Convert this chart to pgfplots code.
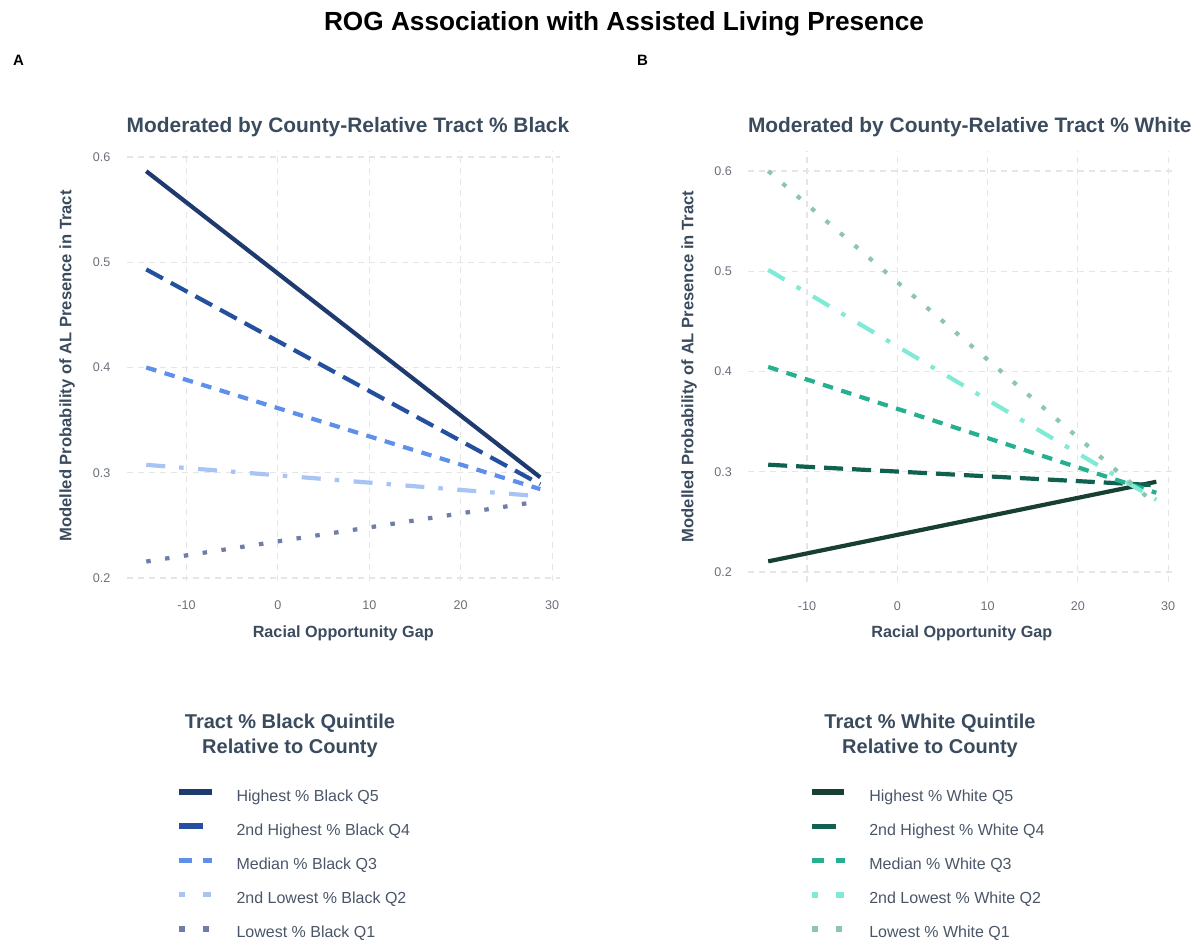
\documentclass[border=0pt]{standalone}
\usepackage{fontspec}
\setmainfont{Liberation Sans}
\usepackage{pgfplots}
\pgfplotsset{compat=1.18}

\definecolor{bQ5}{HTML}{1F3A6E}
\definecolor{bQ4}{HTML}{2450A0}
\definecolor{bQ3}{HTML}{5E8FEA}
\definecolor{bQ2}{HTML}{A8C4F4}
\definecolor{bQ1}{HTML}{6E7EA8}
\definecolor{wQ5}{HTML}{173F32}
\definecolor{wQ4}{HTML}{116150}
\definecolor{wQ3}{HTML}{26B08F}
\definecolor{wQ2}{HTML}{7FEAD5}
\definecolor{wQ1}{HTML}{8EC5AE}
\definecolor{titlec}{HTML}{3B4B5E}
\definecolor{legc}{HTML}{4A5668}
\definecolor{tickc}{HTML}{6A6F78}
\definecolor{gridc}{HTML}{E5E5E8}

\newcommand{\fs}[1]{\fontsize{#1}{#1}\selectfont}

\pgfplotsset{
  rogaxis/.style={
    scale only axis,
    height=430pt,
    xmin=-16.56, xmax=30.86,
    axis line style={draw=none},
    tick style={draw=none},
    xtick={-10,0,10,20,30}, xticklabels={-10,0,10,20,30},
    ytick={0.2,0.3,0.4,0.5,0.6}, yticklabels={0.2,0.3,0.4,0.5,0.6},
    grid=major,
    major grid style={draw=gridc, line width=1.1pt, dash pattern=on 6pt off 5pt},
    tick label style={font=\fs{12.6}, text=tickc, inner sep=0pt},
    xticklabel style={anchor=north, yshift=-19.5pt},
    yticklabel style={anchor=east, xshift=-15.8pt},
    xlabel={Racial Opportunity Gap},
    ylabel={Modelled Probability of AL Presence in Tract},
    xlabel style={font=\bfseries\fs{16.2}, text=titlec, at={(axis description cs:0.5,-0.121)}, anchor=center, inner sep=0pt},
    ylabel style={font=\bfseries\fs{16.6}, text=titlec, at={(axis description cs:-0.137,0.5)}, anchor=center, inner sep=0pt},
    legend cell align=left,
    every axis plot/.append style={line width=4.2pt},
  },
  legsty/.style={draw=none, fill=none, anchor=north west, inner sep=0pt,
    row sep=18.8pt, column sep=21.5pt, font=\fs{16}, text=legc,
    nodes={inner sep=0pt, text height=11.5pt, text depth=3.5pt}},
  s5/.style={solid, legend image code/.code={\draw[##1, line width=6pt, solid] (0pt,5pt) -- (32.4pt,5pt);}},
  s4/.style={dash pattern=on 19pt off 9pt, legend image code/.code={\draw[##1, line width=5.7pt, solid] (0pt,5pt) -- (24pt,5pt);}},
  s3/.style={dash pattern=on 10.5pt off 8.7pt, legend image code/.code={\draw[##1, line width=5.7pt, dash pattern=on 12.4pt off 11.6pt on 9pt off 100pt] (0pt,5pt) -- (33pt,5pt);}},
  s2/.style={dash pattern=on 19pt off 14pt on 4.5pt off 14.5pt, legend image code/.code={\draw[##1, line width=5.7pt, dash pattern=on 5.5pt off 18pt on 8.3pt off 100pt] (0pt,5pt) -- (32pt,5pt);}},
  s1/.style={dash pattern=on 4.5pt off 14.5pt, legend image code/.code={\draw[##1, line width=5.7pt, dash pattern=on 5.5pt off 18pt on 6.5pt off 100pt] (0pt,5pt) -- (31pt,5pt);}},
}

\begin{document}
\begin{tikzpicture}[x=1pt,y=1pt]
\path[use as bounding box] (0,0) rectangle (1194,940);

\node[font=\bfseries\fs{26.2}, anchor=base, inner sep=0pt] at (624,909.5) {ROG Association with Assisted Living Presence};
\node[font=\bfseries\fs{15}, anchor=west, inner sep=0pt] at (13,880) {A};
\node[font=\bfseries\fs{15}, anchor=west, inner sep=0pt] at (637,880) {B};

% Panel A
\begin{axis}[rogaxis, at={(126.5pt,359pt)}, anchor=south west, width=433.5pt,
  ymin=0.1971, ymax=0.6057,
  legend style={legsty, at={(axis description cs:0.1142,-0.4837)}}]
\addplot[bQ5, s5] coordinates {(-14.4,0.5865) (28.7,0.2956)};
\addlegendentry{Highest \% Black Q5}
\addplot[bQ4, s4] coordinates {(-14.4,0.4932) (28.7,0.2890)};
\addlegendentry{2nd Highest \% Black Q4}
\addplot[bQ3, s3] coordinates {(-14.4,0.4000) (28.7,0.2844)};
\addlegendentry{Median \% Black Q3}
\addplot[bQ2, s2] coordinates {(-14.4,0.3075) (28.7,0.2776)};
\addlegendentry{2nd Lowest \% Black Q2}
\addplot[bQ1, s1] coordinates {(-14.4,0.2156) (28.7,0.2729)};
\addlegendentry{Lowest \% Black Q1}
\end{axis}

% Panel B
\begin{axis}[rogaxis, at={(747.8pt,358.5pt)}, anchor=south west, width=428pt,
  ymin=0.1905, ymax=0.6195,
  legend style={legsty, at={(axis description cs:0.1425,-0.4826)}}]
\addplot[wQ5, s5] coordinates {(-14.3,0.2106) (28.7,0.2900)};
\addlegendentry{Highest \% White Q5}
\addplot[wQ4, s4] coordinates {(-14.3,0.3070) (28.7,0.2865)};
\addlegendentry{2nd Highest \% White Q4}
\addplot[wQ3, s3] coordinates {(-14.3,0.4046) (28.7,0.2790)};
\addlegendentry{Median \% White Q3}
\addplot[wQ2, s2] coordinates {(-14.3,0.5014) (28.7,0.2720)};
\addlegendentry{2nd Lowest \% White Q2}
\addplot[wQ1, s1] coordinates {(-14.3,0.6000) (28.7,0.2670)};
\addlegendentry{Lowest \% White Q1}
\end{axis}

% Subplot titles
\node[font=\bfseries\fs{20.9}, text=titlec, anchor=west, inner sep=0pt] at (126.5,813) {Moderated by County-Relative Tract \% Black};
\node[font=\bfseries\fs{20.9}, text=titlec, anchor=west, inner sep=0pt] at (747.8,813) {Moderated by County-Relative Tract \% White};

% Legend titles
\node[font=\bfseries\fs{20}, text=titlec, inner sep=0pt] at (290,217) {Tract \% Black Quintile};
\node[font=\bfseries\fs{20}, text=titlec, inner sep=0pt] at (290,192) {Relative to County};
\node[font=\bfseries\fs{20}, text=titlec, inner sep=0pt] at (930,217) {Tract \% White Quintile};
\node[font=\bfseries\fs{20}, text=titlec, inner sep=0pt] at (930,192) {Relative to County};
\end{tikzpicture}
\end{document}
